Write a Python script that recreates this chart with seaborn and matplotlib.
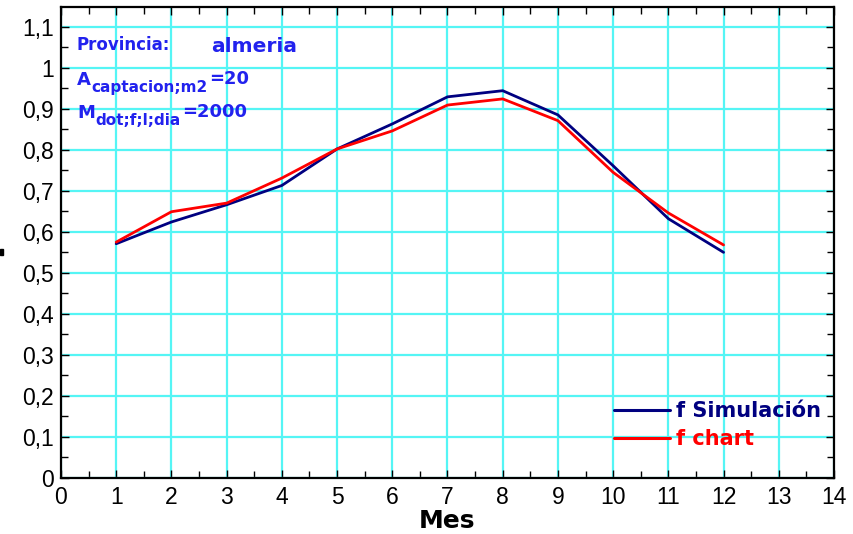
import matplotlib
matplotlib.use("Agg")
import matplotlib.pyplot as plt
import seaborn as sns
import pandas as pd
from matplotlib.ticker import MultipleLocator, FixedLocator

# Monthly solar fraction f for Almería
meses = [1, 2, 3, 4, 5, 6, 7, 8, 9, 10, 11, 12]
f_simulacion = [0.571, 0.624, 0.666, 0.713, 0.802, 0.863, 0.929, 0.944, 0.885, 0.761, 0.632, 0.550]
f_chart = [0.575, 0.649, 0.670, 0.731, 0.802, 0.846, 0.909, 0.924, 0.871, 0.745, 0.646, 0.568]
series_names = ["f Simulación", "f chart"]
series_colors = ["#000080", "#ff0000"]
x_ticks = list(range(0, 15))
y_ticks = [0, 0.1, 0.2, 0.3, 0.4, 0.5, 0.6, 0.7, 0.8, 0.9, 1.0, 1.1]

df = pd.DataFrame({
    "Mes": meses * 2,
    "f": f_simulacion + f_chart,
    "serie": [series_names[0]] * len(meses) + [series_names[1]] * len(meses),
})

sns.set_theme(style="white")
plt.rcParams["font.family"] = ["Liberation Sans", "DejaVu Sans"]
plt.rcParams["text.color"] = "black"
plt.rcParams["axes.labelcolor"] = "black"

W, H = 854, 534
fig = plt.figure(figsize=(W / 100, H / 100), dpi=100)
ax = fig.add_axes([61 / W, 1 - 478 / H, (834 - 61) / W, (478 - 7) / H])

sns.lineplot(data=df, x="Mes", y="f", hue="serie", palette=series_colors,
             linewidth=2.0, ax=ax, legend=False, zorder=3)

ax.set_xlim(0, 14)
ax.set_ylim(0, 1.148)
ax.xaxis.set_major_locator(FixedLocator(x_ticks))
ax.yaxis.set_major_locator(FixedLocator(y_ticks))
ax.xaxis.set_minor_locator(MultipleLocator(0.5))
ax.yaxis.set_minor_locator(MultipleLocator(0.05))
ax.set_xticklabels([str(t) for t in x_ticks])
ax.set_yticklabels([("%.1f" % t).replace(".", ",") if t not in (0, 1.0) else str(int(t)) for t in y_ticks])

ax.grid(True, which="major", color="#55f5f5", linewidth=1.6, zorder=0)
ax.set_axisbelow(True)
ax.tick_params(which="both", direction="in", top=True, right=True, bottom=True, left=True,
               color="black", width=1.0)
ax.tick_params(which="major", length=6, labelsize=16.5, labelcolor="black")
ax.tick_params(axis="y", which="major", pad=5)
ax.tick_params(axis="x", which="major", pad=6)
ax.tick_params(which="minor", length=5)
for s in ax.spines.values():
    s.set_color("black")
    s.set_linewidth(1.6)

ax.set_ylabel("")
ax.set_xlabel("Mes", fontsize=18, fontweight="bold", labelpad=0,
              color="black", family="DejaVu Sans")

# Legend
handles = [plt.Line2D([], [], color=c, linewidth=2.2) for c in series_colors]
leg = ax.legend(handles, series_names, loc="upper left",
                bbox_to_anchor=(614 / W, 1 - 401 / H), bbox_transform=fig.transFigure,
                frameon=False, borderpad=0, borderaxespad=0, handlelength=2.7,
                handletextpad=0.3, labelspacing=0.4,
                prop={"family": "DejaVu Sans", "weight": "bold", "size": 15})
for txt, c in zip(leg.get_texts(), series_colors):
    txt.set_color(c)

# Annotations
blue = "#2222ee"
fig.text(77 / W, 1 - 45 / H, "Provincia:", color=blue, fontsize=12,
         fontweight="bold", va="center", family="DejaVu Sans")
fig.text(211 / W, 1 - 46 / H, "almeria", color=blue, fontsize=14.5,
         fontweight="bold", va="center", family="DejaVu Sans")

renderer = fig.canvas.get_renderer()


def subscripted(x, base_y, main, sub, tail):
    """Draw main text, a lowered subscript and a raised tail, one after another."""
    kw = dict(color=blue, fontweight="bold", va="baseline", family="DejaVu Sans")
    t1 = fig.text(x / W, 1 - base_y / H, main, fontsize=13, **kw)
    x2 = t1.get_window_extent(renderer).x1 + 1
    t2 = fig.text(x2 / W, 1 - (base_y + 7) / H, sub, fontsize=11, **kw)
    x3 = t2.get_window_extent(renderer).x1 + 1
    fig.text(x3 / W, 1 - (base_y - 1) / H, tail, fontsize=13, **kw)


subscripted(77, 85, "A", "captacion;m2", "=20")
subscripted(77, 118, "M", "dot;f;l;dia", "=2000")

# small mark beside the y axis
fig.patches.append(plt.Rectangle((0, 1 - 255 / H), 3 / W, 6 / H,
                                 transform=fig.transFigure, color="black"))

fig.savefig("out.png", dpi=100)
